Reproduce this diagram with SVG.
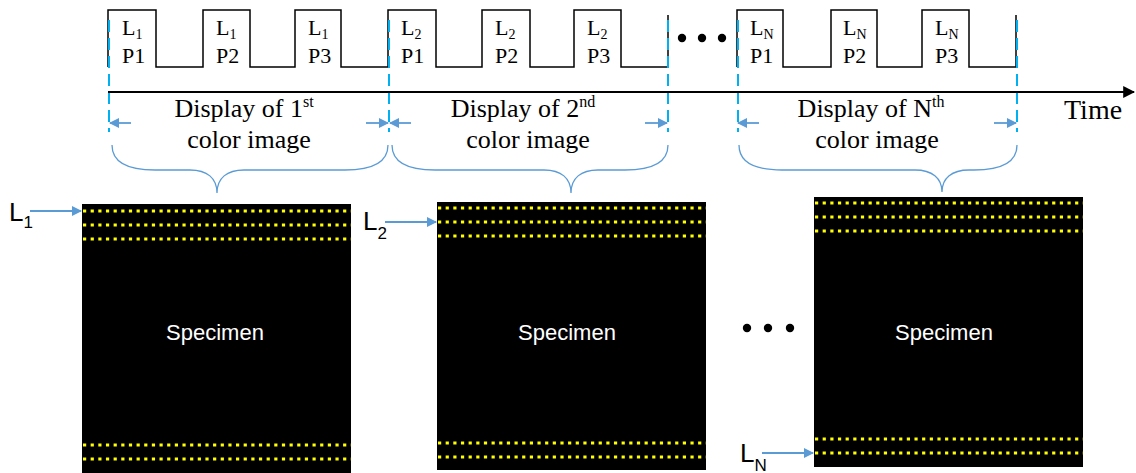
<svg xmlns="http://www.w3.org/2000/svg" width="1136" height="473" viewBox="0 0 1136 473">
  <defs>
    <marker id="arrBlue" viewBox="0 0 10 10" refX="9" refY="5" markerWidth="10" markerHeight="10" markerUnits="userSpaceOnUse" orient="auto">
      <path d="M0,0 L10,5 L0,10 Z" fill="#5B9BD5"/>
    </marker>
    <marker id="arrBlack" viewBox="0 0 10 10" refX="9" refY="5" markerWidth="12" markerHeight="12" markerUnits="userSpaceOnUse" orient="auto">
      <path d="M0,0 L10,5 L0,10 Z" fill="#000"/>
    </marker>
    <style>
      .wave { fill: none; stroke: #000; stroke-width: 1.5; }
      .mark { stroke: #00B0F0; stroke-width: 2; stroke-dasharray: 12 6; fill: none; }
      .span { stroke: #5B9BD5; stroke-width: 1.8; fill: none; marker-end: url(#arrBlue); }
      .brace { stroke: #5B9BD5; stroke-width: 1.3; fill: none; }
      .serif { font-family: "Liberation Serif", "Times New Roman", serif; fill: #000; }
      .pl { font-size: 22px; }
      .sub { font-size: 14px; }
      .cap { font-size: 26px; text-anchor: middle; }
      .sup { font-size: 16px; }
      .spec { fill: #000; }
      .scan { stroke: #FFFF00; stroke-width: 3.2; stroke-dasharray: 3.2 4.45; fill: none; }
      .spectext { font-family: "Liberation Sans", Arial, sans-serif; font-size: 22px; fill: #fff; text-anchor: middle; }
      .lbl { font-family: "Liberation Sans", Arial, sans-serif; font-size: 26px; fill: #000; }
      .lblsub { font-size: 17px; }
      .ptr { stroke: #5B9BD5; stroke-width: 1.8; fill: none; marker-end: url(#arrBlue); }
    </style>
  </defs>
  <rect width="1136" height="473" fill="#fff"/>

  <!-- illumination pulse train -->
  <g id="pulses">
    <path class="wave" d="M108,67 L108,10 L156,10 L156,67 L203,67 L203,10 L250,10 L250,67 L295,67 L295,10 L341,10 L341,67 L388,67 L388,10 L436,10 L436,67 L482,67 L482,10 L530,10 L530,67 L574,67 L574,10 L621,10 L621,67 L668,67 L668,15"/>
    <path class="wave" d="M737,67 L737,10 L783,10 L783,67 L831,67 L831,10 L877,10 L877,67 L922,67 L922,10 L969,10 L969,67 L1016,67 L1016,15"/>
    <circle cx="682" cy="38" r="4.2"/>
    <circle cx="702" cy="38" r="4.2"/>
    <circle cx="722" cy="38" r="4.2"/>
    <g class="serif pl">
      <text x="122" y="35">L<tspan class="sub" dy="4">1</tspan></text>
      <text x="122" y="63">P1</text>
      <text x="216" y="35">L<tspan class="sub" dy="4">1</tspan></text>
      <text x="216" y="63">P2</text>
      <text x="308" y="35">L<tspan class="sub" dy="4">1</tspan></text>
      <text x="308" y="63">P3</text>
      <text x="401" y="35">L<tspan class="sub" dy="4">2</tspan></text>
      <text x="401" y="63">P1</text>
      <text x="495" y="35">L<tspan class="sub" dy="4">2</tspan></text>
      <text x="495" y="63">P2</text>
      <text x="587" y="35">L<tspan class="sub" dy="4">2</tspan></text>
      <text x="587" y="63">P3</text>
      <text x="750" y="35">L<tspan class="sub" dy="4">N</tspan></text>
      <text x="750" y="63">P1</text>
      <text x="843" y="35">L<tspan class="sub" dy="4">N</tspan></text>
      <text x="843" y="63">P2</text>
      <text x="935" y="35">L<tspan class="sub" dy="4">N</tspan></text>
      <text x="935" y="63">P3</text>
    </g>
  </g>

  <!-- frame boundaries -->
  <g id="frame-marks">
    <line class="mark" x1="109" y1="20" x2="109" y2="132"/>
    <line class="mark" x1="389" y1="20" x2="389" y2="132"/>
    <line class="mark" x1="668" y1="20" x2="668" y2="132"/>
    <line class="mark" x1="738" y1="20" x2="738" y2="132"/>
    <line class="mark" x1="1017" y1="20" x2="1017" y2="132"/>
  </g>

  <!-- time axis -->
  <g id="time-axis">
    <line x1="108" y1="92" x2="1134" y2="92" stroke="#000" stroke-width="2" marker-end="url(#arrBlack)"/>
    <text class="serif" x="1064" y="119" font-size="28">Time</text>
  </g>

  <!-- display periods -->
  <g id="display-1">
    <text class="serif cap" x="244" y="117">Display of 1<tspan class="sup" dy="-10">st</tspan></text>
    <text class="serif cap" x="249" y="148">color image</text>
  </g>
  <g id="display-2">
    <text class="serif cap" x="523" y="117">Display of 2<tspan class="sup" dy="-10">nd</tspan></text>
    <text class="serif cap" x="528" y="148">color image</text>
  </g>
  <g id="display-n">
    <text class="serif cap" x="871" y="117">Display of N<tspan class="sup" dy="-10">th</tspan></text>
    <text class="serif cap" x="877" y="148">color image</text>
  </g>

  <g id="connectors">
    <line class="span" x1="131" y1="123" x2="110" y2="123"/>
    <line class="span" x1="366" y1="123" x2="388" y2="123"/>
    <line class="span" x1="411" y1="123" x2="390" y2="123"/>
    <line class="span" x1="645" y1="123" x2="667" y2="123"/>
    <line class="span" x1="759" y1="123" x2="738" y2="123"/>
    <line class="span" x1="994" y1="123" x2="1016" y2="123"/>
    <path class="brace" d="M112,145 C112,162 128,170 155,170 L190,170 C207,170 217,178 217,193 C217,178 227,170 244,170 L345,170 C372,170 388,162 388,145"/>
    <path class="brace" d="M392,145 C392,162 408,170 435,170 L544,170 C561,170 571,178 571,193 C571,178 581,170 598,170 L625,170 C652,170 668,162 668,145"/>
    <path class="brace" d="M739,145 C739,162 755,170 782,170 L915,170 C932,170 942,178 942,192 C942,178 952,170 969,170 L974,170 C1001,170 1017,162 1017,145"/>
    <line class="ptr" x1="30" y1="211" x2="81" y2="211"/>
    <line class="ptr" x1="385" y1="222" x2="436" y2="222"/>
    <line class="ptr" x1="762" y1="453" x2="813" y2="453"/>
  </g>

  <!-- specimen 1 -->
  <g id="specimen-1">
    <rect class="spec" x="82" y="204" width="269" height="269"/>
    <line class="scan" x1="83" y1="211" x2="351" y2="211"/>
    <line class="scan" x1="83" y1="225" x2="351" y2="225"/>
    <line class="scan" x1="83" y1="239" x2="351" y2="239"/>
    <line class="scan" x1="83" y1="445" x2="351" y2="445"/>
    <line class="scan" x1="83" y1="459" x2="351" y2="459"/>
    <text class="spectext" x="215" y="340">Specimen</text>
    <text class="lbl" x="9" y="221">L<tspan class="lblsub" dy="7">1</tspan></text>
  </g>

  <!-- specimen 2 -->
  <g id="specimen-2">
    <rect class="spec" x="437" y="202" width="269" height="268"/>
    <line class="scan" x1="438" y1="208" x2="706" y2="208"/>
    <line class="scan" x1="438" y1="222" x2="706" y2="222"/>
    <line class="scan" x1="438" y1="236" x2="706" y2="236"/>
    <line class="scan" x1="438" y1="443" x2="706" y2="443"/>
    <line class="scan" x1="438" y1="457" x2="706" y2="457"/>
    <text class="spectext" x="567" y="340">Specimen</text>
    <text class="lbl" x="363" y="230">L<tspan class="lblsub" dy="9">2</tspan></text>
  </g>

  <g id="ellipsis">
    <circle cx="747" cy="328" r="4.2"/>
    <circle cx="768" cy="328" r="4.2"/>
    <circle cx="790" cy="328" r="4.2"/>
  </g>

  <!-- specimen N -->
  <g id="specimen-n">
    <rect class="spec" x="814" y="197" width="269" height="270"/>
    <line class="scan" x1="815" y1="203" x2="1083" y2="203"/>
    <line class="scan" x1="815" y1="217" x2="1083" y2="217"/>
    <line class="scan" x1="815" y1="231" x2="1083" y2="231"/>
    <line class="scan" x1="815" y1="439" x2="1083" y2="439"/>
    <line class="scan" x1="815" y1="453" x2="1083" y2="453"/>
    <text class="spectext" x="944" y="340">Specimen</text>
    <text class="lbl" x="740" y="462">L<tspan class="lblsub" dy="9">N</tspan></text>
  </g>
</svg>
